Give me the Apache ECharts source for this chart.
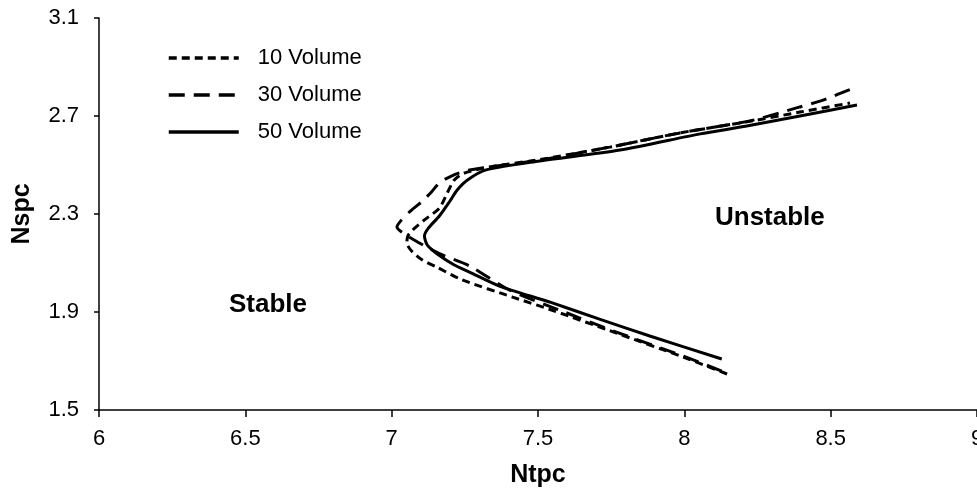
<!DOCTYPE html>
<html>
<head>
<meta charset="utf-8">
<script src="https://cdn.jsdelivr.net/npm/echarts@6/dist/echarts.min.js"></script>
<style>
  html, body { margin: 0; padding: 0; background: #fff; }
  #chart { width: 977px; height: 490px; }
</style>
</head>
<body>
<div id="chart"></div>
<script>
// Stability boundary curves: Ntpc (x) vs Nspc (y), one curve per volume
const ntpc10 = [8.146, 7.996, 7.768, 7.556, 7.413, 7.241, 7.153, 7.105, 7.068, 7.052, 7.055, 7.072, 7.112, 7.163, 7.190, 7.214, 7.248, 7.333, 7.505, 7.745, 7.985, 8.213, 8.395, 8.566];
const nspc10 = [1.647, 1.716, 1.814, 1.904, 1.961, 2.031, 2.084, 2.112, 2.149, 2.182, 2.210, 2.235, 2.276, 2.324, 2.386, 2.439, 2.467, 2.492, 2.522, 2.573, 2.631, 2.676, 2.716, 2.753];

const ntpc30 = [8.128, 7.996, 7.768, 7.573, 7.402, 7.266, 7.181, 7.139, 7.088, 7.044, 7.018, 7.034, 7.068, 7.102, 7.136, 7.163, 7.204, 7.266, 7.505, 7.745, 7.985, 8.224, 8.395, 8.474, 8.586];
const nspc30 = [1.659, 1.720, 1.818, 1.908, 1.990, 2.088, 2.129, 2.153, 2.186, 2.218, 2.247, 2.276, 2.316, 2.349, 2.390, 2.427, 2.455, 2.480, 2.520, 2.573, 2.631, 2.680, 2.737, 2.765, 2.818];

const ntpc50 = [8.128, 7.882, 7.710, 7.539, 7.368, 7.266, 7.214, 7.156, 7.122, 7.112, 7.126, 7.163, 7.197, 7.224, 7.259, 7.323, 7.505, 7.780, 8.054, 8.213, 8.395, 8.590];
const nspc50 = [1.708, 1.802, 1.871, 1.941, 2.006, 2.063, 2.092, 2.137, 2.173, 2.210, 2.243, 2.292, 2.349, 2.398, 2.439, 2.480, 2.516, 2.561, 2.627, 2.659, 2.700, 2.745];

const seriesNames = ['10 Volume', '30 Volume', '50 Volume'];
const xTicks = { min: 6, max: 9, step: 0.5 };
const yTicks = { min: 1.5, max: 3.1, step: 0.4 };

const zip = (xs, ys) => xs.map((x, i) => [x, ys[i]]);

const FONT = 'Liberation Sans, Arial, sans-serif';

const chart = echarts.init(document.getElementById('chart'), null, { renderer: 'canvas' });

function lineSeries(name, data, type) {
  return {
    name: name,
    type: 'line',
    data: data,
    smooth: 0.25,
    showSymbol: false,
    symbol: 'none',
    lineStyle: { color: '#000', width: 3, type: type, cap: 'butt' },
    itemStyle: { color: '#000' },
    animation: false
  };
}

chart.setOption({
  backgroundColor: '#fff',
  animation: false,
  grid: { left: 99, top: 18, width: 878, height: 392, containLabel: false, outerBoundsMode: 'none' },
  legend: {
    orient: 'vertical',
    left: 162,
    top: 42,
    itemWidth: 70,
    itemHeight: 22,
    itemGap: 15,
    itemStyle: { opacity: 0, borderWidth: 0 },
    lineStyle: { width: 3.5 },
    textStyle: { fontFamily: FONT, fontSize: 22, color: '#000', padding: [0, 0, 0, 14] },
    data: seriesNames
  },
  xAxis: {
    type: 'value',
    min: xTicks.min,
    max: xTicks.max,
    interval: xTicks.step,
    name: 'Ntpc',
    nameLocation: 'middle',
    nameGap: 53,
    nameTextStyle: { fontFamily: FONT, fontSize: 25, fontWeight: 'bold', color: '#000' },
    axisLine: { show: true, onZero: false, lineStyle: { color: '#000', width: 1.5 } },
    axisTick: { show: true, inside: false, length: 7, lineStyle: { color: '#000', width: 1.5 } },
    axisLabel: { fontFamily: FONT, fontSize: 22, color: '#000', margin: 18 },
    splitLine: { show: false }
  },
  yAxis: {
    type: 'value',
    min: yTicks.min,
    max: yTicks.max,
    interval: yTicks.step,
    name: 'Nspc',
    nameLocation: 'middle',
    nameGap: 64,
    nameRotate: 90,
    nameTextStyle: { fontFamily: FONT, fontSize: 25, fontWeight: 'bold', color: '#000' },
    axisLine: { show: true, onZero: false, lineStyle: { color: '#000', width: 1.5 } },
    axisTick: { show: true, inside: false, length: 5, lineStyle: { color: '#000', width: 1.5 } },
    axisLabel: {
      fontFamily: FONT, fontSize: 22, color: '#000', margin: 20,
      formatter: v => v.toFixed(1)
    },
    splitLine: { show: false }
  },
  series: [
    lineSeries(seriesNames[0], zip(ntpc10, nspc10), [8, 5]),
    lineSeries(seriesNames[1], zip(ntpc30, nspc30), [16, 9]),
    lineSeries(seriesNames[2], zip(ntpc50, nspc50), 'solid')
  ],
  graphic: [
    { type: 'text', left: 229, top: 292, style: { text: 'Stable', fontFamily: FONT, fontSize: 26, fontWeight: 'bold', fill: '#000' } },
    { type: 'text', left: 715, top: 205, style: { text: 'Unstable', fontFamily: FONT, fontSize: 26, fontWeight: 'bold', fill: '#000' } }
  ]
});
</script>
</body>
</html>
